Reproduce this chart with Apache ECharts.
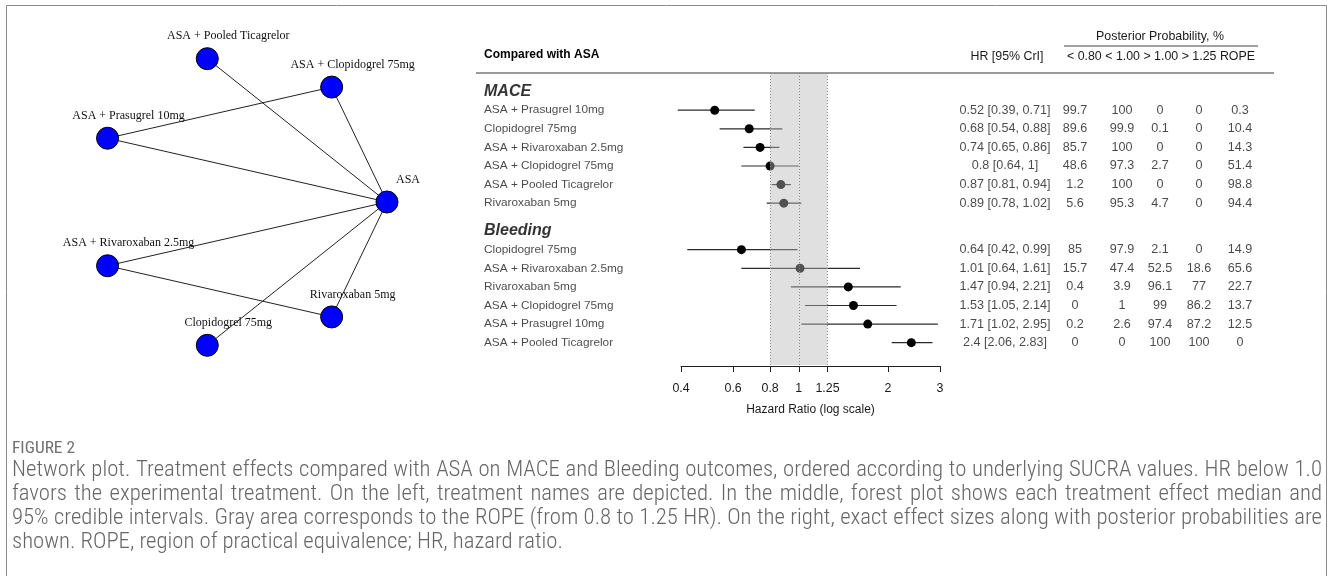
<!DOCTYPE html>
<html>
<head>
<meta charset="utf-8">
<script src="https://cdn.jsdelivr.net/npm/echarts@6/dist/echarts.min.js"></script>
<style>html,body{margin:0;padding:0;background:#fff}#c{width:1330px;height:576px}</style>
</head>
<body>
<div id="c"></div>
<script>
// ---------------- DATA ----------------
const networkNodes = ['ASA', 'ASA + Clopidogrel 75mg', 'ASA + Pooled Ticagrelor', 'ASA + Prasugrel 10mg',
  'ASA + Rivaroxaban 2.5mg', 'Clopidogrel 75mg', 'Rivaroxaban 5mg'];
const networkLinks = [
  ['ASA + Pooled Ticagrelor', 'ASA'], ['ASA + Clopidogrel 75mg', 'ASA'], ['ASA + Prasugrel 10mg', 'ASA'],
  ['ASA + Prasugrel 10mg', 'ASA + Clopidogrel 75mg'], ['ASA + Rivaroxaban 2.5mg', 'ASA'],
  ['ASA + Rivaroxaban 2.5mg', 'Rivaroxaban 5mg'], ['Clopidogrel 75mg', 'ASA'], ['Rivaroxaban 5mg', 'ASA']
];

const maceNames = ['ASA + Prasugrel 10mg', 'Clopidogrel 75mg', 'ASA + Rivaroxaban 2.5mg', 'ASA + Clopidogrel 75mg', 'ASA + Pooled Ticagrelor', 'Rivaroxaban 5mg'];
const maceHR = [0.52, 0.68, 0.74, 0.8, 0.87, 0.89];
const maceLo = [0.39, 0.54, 0.65, 0.64, 0.81, 0.78];
const maceHi = [0.71, 0.88, 0.86, 1, 0.94, 1.02];
const maceBelow080 = [99.7, 89.6, 85.7, 48.6, 1.2, 5.6];
const maceBelow100 = [100, 99.9, 100, 97.3, 100, 95.3];
const maceAbove100 = [0, 0.1, 0, 2.7, 0, 4.7];
const maceAbove125 = [0, 0, 0, 0, 0, 0];
const maceRope = [0.3, 10.4, 14.3, 51.4, 98.8, 94.4];

const bleedNames = ['Clopidogrel 75mg', 'ASA + Rivaroxaban 2.5mg', 'Rivaroxaban 5mg', 'ASA + Clopidogrel 75mg', 'ASA + Prasugrel 10mg', 'ASA + Pooled Ticagrelor'];
const bleedHR = [0.64, 1.01, 1.47, 1.53, 1.71, 2.4];
const bleedLo = [0.42, 0.64, 0.94, 1.05, 1.02, 2.06];
const bleedHi = [0.99, 1.61, 2.21, 2.14, 2.95, 2.83];
const bleedBelow080 = [85, 15.7, 0.4, 0, 0.2, 0];
const bleedBelow100 = [97.9, 47.4, 3.9, 1, 2.6, 0];
const bleedAbove100 = [2.1, 52.5, 96.1, 99, 97.4, 100];
const bleedAbove125 = [0, 18.6, 77, 86.2, 87.2, 100];
const bleedRope = [14.9, 65.6, 22.7, 13.7, 12.5, 0];

const tickValues = [0.4, 0.6, 0.8, 1, 1.25, 2, 3];
const axisRange = [0.4, 3];
const ropeRange = [0.8, 1.25];
const refLines = [0.8, 1, 1.25];
const probHeaders = ['< 0.80', '< 1.00', '> 1.00', '> 1.25', 'ROPE'];

const captionLabel = 'FIGURE 2';
const captionLines = [
  'Network plot. Treatment effects compared with ASA on MACE and Bleeding outcomes, ordered according to underlying SUCRA values. HR below 1.0',
  'favors the experimental treatment. On the left, treatment names are depicted. In the middle, forest plot shows each treatment effect median and',
  '95% credible intervals. Gray area corresponds to the ROPE (from 0.8 to 1.25 HR). On the right, exact effect sizes along with posterior probabilities are',
  'shown. ROPE, region of practical equivalence; HR, hazard ratio.'
];

// ---------------- LAYOUT ----------------
const LAY = {
  forestLeft: 681, forestWidth: 259, top: 73, height: 292,
  tableLeft: 476, tableWidth: 798, yMin: -1, yMax: 14.7,
  labelCol: 8, hrCol: 529, probCols: [599, 646, 684, 723, 764]
};
const SANS = 'Liberation Sans';
const SERIF = 'Liberation Serif';

// ---------------- BUILD ROWS ----------------
const groups = [
  { title: 'MACE', names: maceNames, hr: maceHR, lo: maceLo, hi: maceHi,
    probs: [maceBelow080, maceBelow100, maceAbove100, maceAbove125, maceRope] },
  { title: 'Bleeding', names: bleedNames, hr: bleedHR, lo: bleedLo, hi: bleedHi,
    probs: [bleedBelow080, bleedBelow100, bleedAbove100, bleedAbove125, bleedRope] }
];
const titleRows = [], dataRows = [];
let pos = 0;
groups.forEach((g, gi) => {
  if (gi > 0) pos += 0.5;
  titleRows.push({ label: g.title, y: pos });
  pos += 1;
  g.names.forEach((n, i) => {
    dataRows.push({ label: n, hr: g.hr[i], lo: g.lo[i], hi: g.hi[i], probs: g.probs.map(a => a[i]), y: pos });
    pos += 1;
  });
});

// ---------------- CAPTION (justified words) ----------------
function pickFont(cands) {
  const c = document.createElement('canvas').getContext('2d');
  const test = 'Network plot abcdefghijklmnopqrstuvwxyz 0123456789';
  for (const f of cands) {
    c.font = '20px monospace'; const w0 = c.measureText(test).width;
    c.font = '20px "' + f + '", monospace'; const w1 = c.measureText(test).width;
    c.font = '20px serif'; const w2 = c.measureText(test).width;
    c.font = '20px "' + f + '", serif'; const w3 = c.measureText(test).width;
    if (Math.abs(w0 - w1) > 0.5 || Math.abs(w2 - w3) > 0.5) return f;
  }
  return SANS;
}
const capFont = pickFont(['Roboto Condensed', 'Open Sans Condensed', 'Liberation Sans Narrow', 'DejaVu Sans Condensed']);
const capWeight = capFont === 'Roboto Condensed' ? '300 ' : '';
const mctx = document.createElement('canvas').getContext('2d');
function fontStr(size, w) { return (w !== undefined ? w : capWeight) + size.toFixed(2) + 'px "' + capFont + '"'; }
function measure(text, size, w) { mctx.font = fontStr(size, w); return mctx.measureText(text).width; }
const capSize = 20 * 551 / measure(captionLines[3], 20);
const figSize = 20 * 63 / measure(captionLabel, 20, '');
const capGraphics = [];
capGraphics.push({ type: 'text', x: 12, y: 449, silent: true,
  style: { text: captionLabel, font: fontStr(figSize, ''), fill: '#707070', verticalAlign: 'middle' } });
const capY = [470, 494, 518, 542];
const capX0 = 12, capX1 = 1322;
captionLines.forEach((line, li) => {
  const words = line.split(' ');
  const ws = words.map(w => measure(w, capSize));
  const sum = ws.reduce((a, b) => a + b, 0);
  const justify = li < captionLines.length - 1;
  const gap = justify ? (capX1 - capX0 - sum) / (words.length - 1) : measure(' ', capSize);
  let x = capX0;
  words.forEach((w, i) => {
    capGraphics.push({ type: 'text', x: x, y: capY[li], silent: true,
      style: { text: w, font: fontStr(capSize), fill: '#666666', verticalAlign: 'middle' } });
    x += ws[i] + gap;
  });
});

// ---------------- OPTION ----------------
const yAxisCfg = (gi) => ({ type: 'value', gridIndex: gi, inverse: true, min: LAY.yMin, max: LAY.yMax, show: false });
const hidden = { color: 'rgba(0,0,0,0)' };
const textSeriesBase = (extra) => Object.assign({
  type: 'scatter', xAxisIndex: 1, yAxisIndex: 1, symbolSize: 1, itemStyle: hidden, silent: true, z: 4
}, extra);

const headerText = (text, x, y, align, extra) => ({
  type: 'text', x: x, y: y, z: 100, silent: true,
  style: Object.assign({ text: text, font: '12.4px "' + SANS + '"', fill: '#1a1a1a', align: align, verticalAlign: 'middle' }, extra || {})
});

const option = {
  animation: false,
  backgroundColor: '#fff',
  textStyle: { fontFamily: SANS },
  polar: { center: [240, 202], radius: 147 },
  angleAxis: { type: 'value', min: 0, max: 360, startAngle: 0, clockwise: false, show: false },
  radiusAxis: { type: 'value', min: 0, max: 1, show: false },
  grid: [
    { left: LAY.forestLeft, top: LAY.top, width: LAY.forestWidth, height: LAY.height, outerBoundsMode: 'none' },
    { left: LAY.tableLeft, top: LAY.top, width: LAY.tableWidth, height: LAY.height, outerBoundsMode: 'none' }
  ],
  xAxis: [
    { type: 'log', gridIndex: 0, position: 'bottom', offset: 1, min: axisRange[0], max: axisRange[1], logBase: 10,
      axisLine: { show: true, onZero: false, lineStyle: { color: '#222', width: 1 } },
      axisTick: { show: true, length: 6, lineStyle: { color: '#222' }, customValues: tickValues },
      axisLabel: { show: true, margin: 17, fontSize: 12.4, color: '#1a1a1a', fontFamily: SANS, customValues: tickValues,
        formatter: v => String(v) },
      minorTick: { show: false }, splitLine: { show: false },
      name: 'Hazard Ratio (log scale)', nameLocation: 'middle', nameGap: 38,
      nameTextStyle: { fontSize: 12, color: '#1a1a1a', fontFamily: SANS } },
    { type: 'value', gridIndex: 1, min: 0, max: LAY.tableWidth, show: false }
  ],
  yAxis: [yAxisCfg(0), yAxisCfg(1)],
  graphic: [
    { type: 'rect', z: 100, silent: true, shape: { x: 6.5, y: 5.5, width: 1320, height: 620 }, style: { fill: 'none', stroke: '#8a8a8a', lineWidth: 1 } },
    { type: 'line', z: 100, silent: true, shape: { x1: 476, y1: 73, x2: 1274, y2: 73 }, style: { stroke: '#7a7a7a', lineWidth: 1.6 } },
    { type: 'line', z: 100, silent: true, shape: { x1: 1064, y1: 46, x2: 1258, y2: 46 }, style: { stroke: '#444', lineWidth: 1 } },
    headerText('Compared with ASA', 484, 54.5, 'left', { font: 'bold 12px "' + SANS + '"', fill: '#000' }),
    headerText('HR [95% CrI]', 1007, 56.7, 'center'),
    headerText('Posterior Probability, %', 1160, 36.7, 'center'),
    headerText(probHeaders.join(' '), 1161, 56.7, 'center')
  ].concat(capGraphics),
  series: [
    // network plot
    { type: 'graph', coordinateSystem: 'polar', polarIndex: 0, layout: 'none', symbolSize: 22, silent: true,
      data: networkNodes.map((n, i) => ({ name: n, value: [1, i * 360 / networkNodes.length] })),
      links: networkLinks.map(([s, t]) => ({ source: s, target: t })),
      itemStyle: { color: '#0000ff', borderColor: '#000', borderWidth: 1 },
      lineStyle: { color: '#222', width: 1, opacity: 1, curveness: 0 },
      label: { show: true, position: 'top', distance: 5, offset: [21, 0], fontFamily: SERIF, fontSize: 12, color: '#111' },
      emphasis: { disabled: true } },
    // credible intervals
    { type: 'custom', xAxisIndex: 0, yAxisIndex: 0, z: 2, silent: true,
      data: dataRows.map(r => [r.lo, r.hi, r.y]), encode: { x: [0, 1], y: 2 },
      renderItem: (params, api) => {
        const a = api.coord([api.value(0), api.value(2)]);
        const b = api.coord([api.value(1), api.value(2)]);
        return { type: 'line', shape: { x1: a[0], y1: a[1], x2: b[0], y2: b[1] }, style: { stroke: '#2a2a2a', lineWidth: 1.2 } };
      } },
    // medians
    { type: 'scatter', xAxisIndex: 0, yAxisIndex: 0, z: 3, silent: true, symbolSize: 9,
      data: dataRows.map(r => [r.hr, r.y]), itemStyle: { color: '#000', opacity: 1 } },
    // ROPE overlay
    { type: 'custom', xAxisIndex: 0, yAxisIndex: 0, z: 5, silent: true,
      data: [ropeRange], encode: { x: [0, 1] },
      renderItem: (params, api) => {
        const cs = params.coordSys;
        const x0 = api.coord([api.value(0), 0])[0];
        const x1 = api.coord([api.value(1), 0])[0];
        return { type: 'rect', shape: { x: x0, y: cs.y, width: x1 - x0, height: cs.height }, style: { fill: 'rgba(185,185,185,0.44)' } };
      } },
    // reference dotted lines
    { type: 'custom', xAxisIndex: 0, yAxisIndex: 0, z: 6, silent: true,
      data: refLines.map(v => [v]), encode: { x: 0 },
      renderItem: (params, api) => {
        const cs = params.coordSys;
        const x = Math.round(api.coord([api.value(0), 0])[0]) + 0.5;
        return { type: 'line', shape: { x1: x, y1: cs.y, x2: x, y2: cs.y + cs.height }, style: { stroke: '#8a8a8a', lineWidth: 1, lineDash: [1, 2] } };
      } },
    // group titles
    textSeriesBase({ data: titleRows.map(r => ({ name: r.label, value: [LAY.labelCol, r.y] })),
      label: { show: true, position: 'right', distance: -0.5, formatter: '{b}', fontSize: 16, fontWeight: 'bold', fontStyle: 'italic', color: '#000', fontFamily: SANS } }),
    // row labels
    textSeriesBase({ data: dataRows.map(r => ({ name: r.label, value: [LAY.labelCol, r.y] })),
      label: { show: true, position: 'right', distance: -0.5, formatter: '{b}', fontSize: 11.8, color: '#1a1a1a', fontFamily: SANS } }),
    // HR text
    textSeriesBase({ data: dataRows.map(r => ({ name: r.hr + ' [' + r.lo + ', ' + r.hi + ']', value: [LAY.hrCol, r.y] })),
      label: { show: true, position: 'inside', formatter: '{b}', fontSize: 12.6, color: '#1a1a1a', fontFamily: SANS } }),
    // probabilities
    textSeriesBase({ data: [].concat(...dataRows.map(r => r.probs.map((p, j) => ({ name: String(p), value: [LAY.probCols[j], r.y] })))),
      label: { show: true, position: 'inside', formatter: '{b}', fontSize: 12.6, color: '#1a1a1a', fontFamily: SANS } })
  ]
};

const chart = echarts.init(document.getElementById('c'));
chart.setOption(option);
</script>
</body>
</html>
